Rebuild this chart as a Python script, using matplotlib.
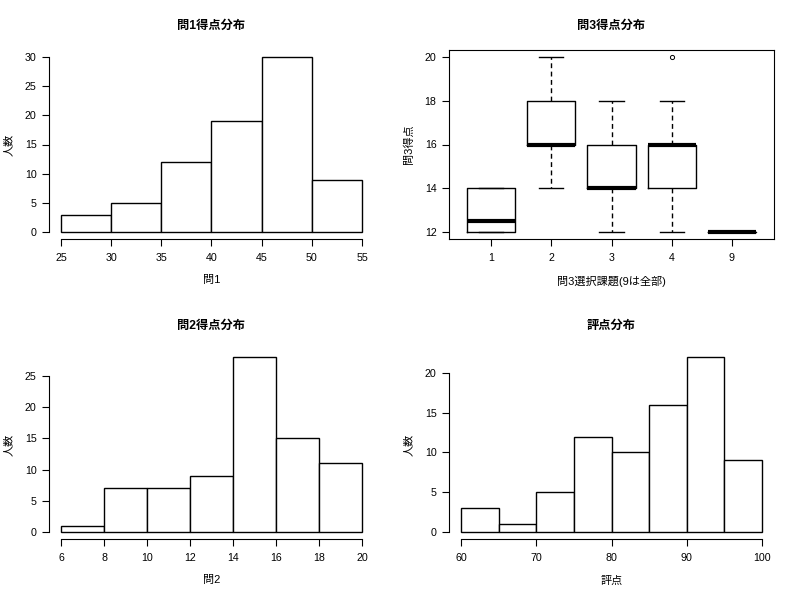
import matplotlib
matplotlib.use("Agg")
import matplotlib.pyplot as plt

plt.rcParams['font.family'] = ['Liberation Sans', 'Noto Sans CJK JP', 'DejaVu Sans']

# ---- data ----
q1_edges = [25, 30, 35, 40, 45, 50, 55]
q1_counts = [3, 5, 12, 19, 30, 9]
q1_yticks = [0, 5, 10, 15, 20, 25, 30]

q2_edges = [6, 8, 10, 12, 14, 16, 18, 20]
q2_counts = [1, 7, 7, 9, 28, 15, 11]
q2_yticks = [0, 5, 10, 15, 20, 25]

sc_edges = [60, 65, 70, 75, 80, 85, 90, 95, 100]
sc_counts = [3, 1, 5, 12, 10, 16, 22, 9]
sc_xticks = [60, 70, 80, 90, 100]
sc_yticks = [0, 5, 10, 15, 20]

q3_groups = ['1', '2', '3', '4', '9']
q3_q1 = [12, 16, 14, 14, 12]
q3_med = [12.5, 16, 14, 16, 12]
q3_q3 = [14, 18, 16, 16, 12]
q3_whislo = [12, 14, 12, 12, 12]
q3_whishi = [14, 20, 18, 18, 12]
q3_fliers = [[], [], [], [20], []]
q3_yticks = [12, 14, 16, 18, 20]

W, H = 800, 600
fig = plt.figure(figsize=(8, 6), dpi=100)

TICK_FS = 7.7
LAB_FS = 8.0
TITLE_FS = 8.8

def make_axes(px_left, px_top, px_right, px_bottom):
    return fig.add_axes([px_left / W, 1 - px_bottom / H,
                         (px_right - px_left) / W, (px_bottom - px_top) / H])

def style_ticks(ax):
    ax.tick_params(axis='both', direction='out', length=5, width=0.8,
                   labelsize=TICK_FS, colors='black')
    ax.tick_params(axis='x', pad=5)
    ax.tick_params(axis='y', pad=4)

def hist_panel(ax, edges, counts, yticks, xticks, title, xlabel):
    widths = [edges[i + 1] - edges[i] for i in range(len(counts))]
    ax.bar(edges[:-1], counts, width=widths, align='edge', color='white',
           edgecolor='black', linewidth=1.0)
    xr = edges[-1] - edges[0]
    ymax = max(counts)
    ax.set_xlim(edges[0] - 0.04 * xr, edges[-1] + 0.04 * xr)
    ax.set_ylim(-0.04 * ymax, ymax * 1.04)
    ax.set_xticks(xticks)
    ax.set_yticks(yticks)
    for s in ['top', 'right']:
        ax.spines[s].set_visible(False)
    ax.spines['bottom'].set_bounds(xticks[0], xticks[-1])
    ax.spines['left'].set_bounds(yticks[0], yticks[-1])
    ax.spines['bottom'].set_linewidth(0.8)
    ax.spines['left'].set_linewidth(0.8)
    style_ticks(ax)
    ax.set_title(title, fontsize=TITLE_FS, fontweight='bold', pad=15)
    ax.set_xlabel(xlabel, fontsize=LAB_FS, labelpad=9)
    ax.set_ylabel('人数', fontsize=LAB_FS, labelpad=8)

ax1 = make_axes(49, 50, 374, 239)
hist_panel(ax1, q1_edges, q1_counts, q1_yticks, q1_edges, '問1得点分布', '問1')

ax2 = make_axes(49, 350, 374, 539)
hist_panel(ax2, q2_edges, q2_counts, q2_yticks, q2_edges, '問2得点分布', '問2')

ax4 = make_axes(449, 350, 774, 539)
hist_panel(ax4, sc_edges, sc_counts, sc_yticks, sc_xticks, '評点分布', '評点')

# boxplot panel
ax3 = make_axes(449, 50, 774, 239)
stats = []
for i, g in enumerate(q3_groups):
    stats.append(dict(label=g, q1=q3_q1[i], med=q3_med[i], q3=q3_q3[i],
                      whislo=q3_whislo[i], whishi=q3_whishi[i],
                      fliers=q3_fliers[i]))
pos = list(range(1, len(q3_groups) + 1))
ax3.bxp(stats, positions=pos, widths=0.8, showfliers=True,
        boxprops=dict(color='black', linewidth=1.0),
        medianprops=dict(color='black', linewidth=3.0, solid_capstyle='butt'),
        whiskerprops=dict(color='black', linewidth=1.0, linestyle=(0, (3.5, 2.5))),
        capprops=dict(color='black', linewidth=1.0),
        capwidths=0.4,
        flierprops=dict(marker='o', markerfacecolor='none',
                        markeredgecolor='black', markersize=3, markeredgewidth=0.7))
n = len(q3_groups)
ax3.set_xlim(0.5 - 0.04 * n, n + 0.5 + 0.04 * n)
ax3.set_ylim(12 - 0.04 * 8, 20 + 0.04 * 8)
ax3.set_xticks(pos)
ax3.set_xticklabels(q3_groups)
ax3.set_yticks(q3_yticks)
for s in ax3.spines.values():
    s.set_linewidth(0.8)
style_ticks(ax3)
ax3.set_title('問3得点分布', fontsize=TITLE_FS, fontweight='bold', pad=15)
ax3.set_xlabel('問3選択課題(9は全部)', fontsize=LAB_FS, labelpad=9)
ax3.set_ylabel('問3得点', fontsize=LAB_FS, labelpad=8)

fig.savefig('out.png', dpi=100)
